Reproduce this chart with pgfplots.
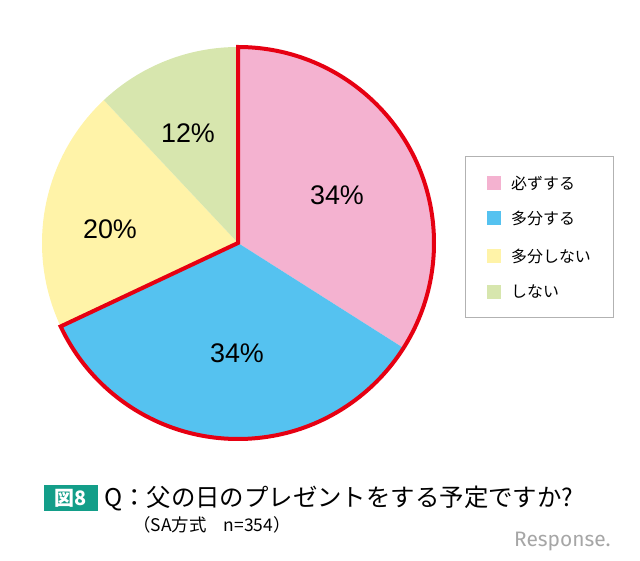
\documentclass[border=0pt]{standalone}
\usepackage{pgfplots}
\usepackage{pgfplotstable}
\pgfplotsset{compat=1.18}
\usepackage{fontspec}
\setmainfont{Liberation Sans}
\newfontfamily\jp{Noto Sans CJK JP}
\newfontfamily\logo{Fira Sans}

\definecolor{slice0}{HTML}{F4B2D0}
\definecolor{slice1}{HTML}{55C2F0}
\definecolor{slice2}{HTML}{FFF3A8}
\definecolor{slice3}{HTML}{D7E6AE}
\definecolor{redline}{HTML}{E60012}
\definecolor{teal8}{HTML}{139E89}

% share in %, label position (px, y up)
\pgfplotstableread{
share lx  ly
34    337 366
34    237 208
20    110 332
12    188 428
}\piedata

\begin{document}
\begin{tikzpicture}
\path[use as bounding box] (0,0) rectangle (640bp,561bp);
\begin{axis}[
    width=640bp, height=561bp,
    scale only axis,
    xmin=0, xmax=640, ymin=0, ymax=561,
    hide axis, clip=false,
  ]
\pgfplotsextra{
  \gdef\curang{90}
  \pgfplotstablegetrowsof{\piedata}
  \pgfmathtruncatemacro\nrows{\pgfplotsretval-1}
  \foreach \i in {0,...,\nrows}{
    \pgfplotstablegetelem{\i}{share}\of\piedata \let\sh\pgfplotsretval
    \pgfmathsetmacro\endang{\curang-3.6*\sh}
    \fill[slice\i] (axis cs:238,318) -- ++(\curang:196bp)
      arc[start angle=\curang, end angle=\endang, radius=196bp] -- cycle;
    \ifnum\i=1 \xdef\redend{\endang}\fi
    \xdef\curang{\endang}
  }
  \draw[redline, line width=4bp, line join=miter]
    (axis cs:238,318) -- ++(90:196bp)
    arc[start angle=90, end angle=\redend, radius=196bp] -- cycle;
  \foreach \i in {0,...,\nrows}{
    \pgfplotstablegetelem{\i}{share}\of\piedata \let\sh\pgfplotsretval
    \pgfplotstablegetelem{\i}{lx}\of\piedata \let\lx\pgfplotsretval
    \pgfplotstablegetelem{\i}{ly}\of\piedata \let\ly\pgfplotsretval
    \node[font=\fontsize{27}{30}\selectfont, text=black]
      at (axis cs:\lx,\ly) {\sh\%};
  }
}

% legend
\draw[gray!60, line width=0.8bp] (axis cs:465,244) rectangle (axis cs:613,405);
\fill[slice0] (axis cs:487,371) rectangle (axis cs:501,385);
\fill[slice1] (axis cs:487,336) rectangle (axis cs:501,350);
\fill[slice2] (axis cs:487,298) rectangle (axis cs:501,312);
\fill[slice3] (axis cs:487,262) rectangle (axis cs:501,276);
\node[anchor=west, inner sep=0pt, font=\jp\fontsize{16}{18}\selectfont] at (axis cs:511,378) {必ずする};
\node[anchor=west, inner sep=0pt, font=\jp\fontsize{16}{18}\selectfont] at (axis cs:511,343) {多分する};
\node[anchor=west, inner sep=0pt, font=\jp\fontsize{16}{18}\selectfont] at (axis cs:511,305) {多分しない};
\node[anchor=west, inner sep=0pt, font=\jp\fontsize{16}{18}\selectfont] at (axis cs:511,269) {しない};

% title
\fill[teal8] (axis cs:44,50) rectangle (axis cs:98,76);
\node[text=white, font=\jp\bfseries\fontsize{20}{22}\selectfont] at (axis cs:71,63) {図8};
\node[anchor=base west, inner sep=0pt, font=\jp\fontsize{24.5}{28}\selectfont]
  at (axis cs:104,54) {Q：父の日のプレゼントをする予定ですか?};
\node[anchor=base west, inner sep=0pt, font=\jp\fontsize{17.5}{20}\selectfont]
  at (axis cs:133,30) {（SA方式　n=354）};
\node[anchor=base west, inner sep=0pt, text=gray!70, font=\logo\fontsize{21}{24}\selectfont]
  at (axis cs:514,15) {Response.};
\end{axis}
\end{tikzpicture}
\end{document}
